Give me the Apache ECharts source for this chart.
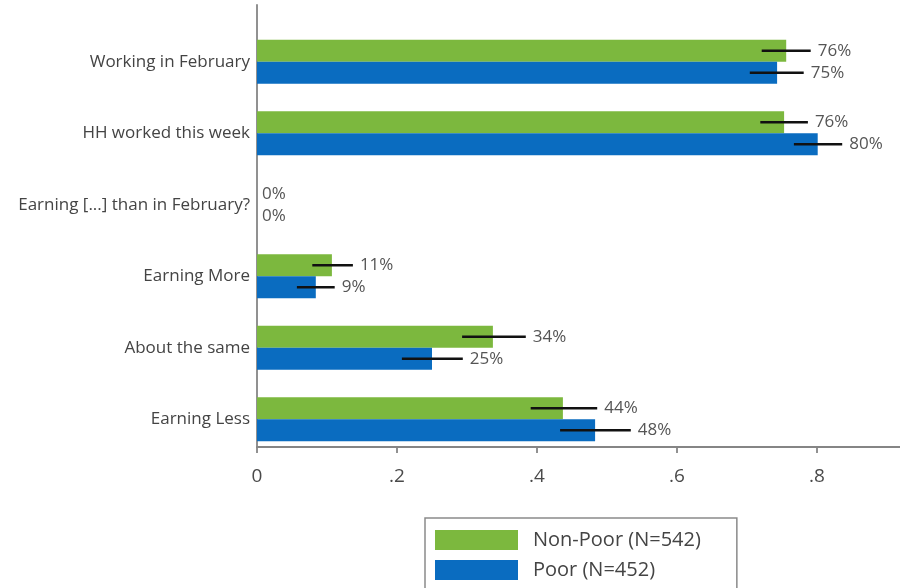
<!DOCTYPE html>
<html><head><meta charset="utf-8">
<script src="https://cdn.jsdelivr.net/npm/echarts@6/dist/echarts.min.js"></script>
<style>html,body{margin:0;padding:0;background:#fff}#c{width:900px;height:588px}</style>
</head><body><div id="c"></div>
<script>
const categories = ['Working in February','HH worked this week','Earning [...] than in February?','Earning More','About the same','Earning Less'];
const nonPoor = [0.756, 0.753, 0, 0.107, 0.337, 0.437];
const poor = [0.743, 0.801, 0, 0.084, 0.250, 0.483];
const nonPoorLow = [0.721, 0.719, null, 0.079, 0.293, 0.391];
const nonPoorHigh = [0.791, 0.787, null, 0.137, 0.384, 0.486];
const poorLow = [0.704, 0.767, null, 0.057, 0.207, 0.433];
const poorHigh = [0.781, 0.836, null, 0.111, 0.294, 0.534];
const nonPoorLabels = ['76%','76%','0%','11%','34%','44%'];
const poorLabels = ['75%','80%','0%','9%','25%','48%'];
const tickLabels = ['0','.2','.4','.6','.8'];
const seriesNames = ['Non-Poor (N=542)','Poor (N=452)'];

const GREEN = '#7cb83e', BLUE = '#0a6cc0';
const FONT = 'Open Sans';
const XMAX = 643/700;

function errData(low, high, vals, labels){
  return categories.map((c,i)=>[low[i], high[i], i, vals[i], labels[i]]);
}
const errDataCache = {};
function errRender(offset){
  return function(params, api){
    const low = api.value(0), high = api.value(1), idx = api.value(2), v = api.value(3);
    const label = errDataCache[params.seriesIndex][params.dataIndex][4];
    const children = [];
    let textX;
    if (low != null && !isNaN(low) && high != null && !isNaN(high)) {
      const p1 = api.coord([low, idx]);
      const p2 = api.coord([high, idx]);
      const y = p1[1] + offset;
      children.push({type:'line', shape:{x1:p1[0], y1:y, x2:p2[0], y2:y}, style:{stroke:'#111', lineWidth:2.6}});
      textX = p2[0] + 7;
    } else {
      textX = api.coord([v, idx])[0] + 5;
    }
    const yc = api.coord([0, idx])[1] + offset;
    children.push({type:'text', style:{text:label, x:textX, y:yc, verticalAlign:'middle', fill:'#555', fontSize:17, fontFamily:FONT}});
    return {type:'group', children};
  };
}
const chart = echarts.init(document.getElementById('c'), null, {renderer:'canvas'});
const npErr = errData(nonPoorLow, nonPoorHigh, nonPoor, nonPoorLabels);
const pErr = errData(poorLow, poorHigh, poor, poorLabels);
errDataCache[2] = npErr; errDataCache[3] = pErr;

chart.setOption({
  animation:false,
  textStyle:{fontFamily:FONT},
  grid:[
    {left:257, width:643, top:5, height:442},
    {left:257, width:643, top:26, height:429}
  ],
  xAxis:[
    {gridIndex:0, type:'value', min:0, max:XMAX, interval:0.2,
     axisLine:{show:true, lineStyle:{color:'#858585', width:1.8}},
     axisTick:{show:true, length:6, lineStyle:{color:'#858585', width:1.8}},
     splitLine:{show:false},
     axisLabel:{color:'#4a4a4a', fontSize:19, margin:20, showMaxLabel:false,
       formatter:v=>{const k=Math.round(v/0.2); return Math.abs(v-k*0.2)<1e-6 && tickLabels[k]!==undefined ? tickLabels[k] : '';}}},
    {gridIndex:1, type:'value', min:0, max:XMAX, show:false, splitLine:{show:false}}
  ],
  yAxis:[
    {gridIndex:0, type:'value', min:0, max:1,
     axisLine:{show:true, lineStyle:{color:'#858585', width:1.8}},
     axisTick:{show:false}, axisLabel:{show:false}, splitLine:{show:false}},
    {gridIndex:1, type:'category', inverse:true, data:categories,
     axisLine:{show:false}, axisTick:{show:false}, splitLine:{show:false},
     axisLabel:{color:'#444', fontSize:17, margin:7}}
  ],
  legend:{
    orient:'vertical', left:425, top:518, height:60, itemWidth:83, itemHeight:20, itemGap:10,
    padding:[12,36,20,10], borderColor:'#8a8a8a', borderWidth:1.5, backgroundColor:'#fff',
    icon:'rect', data:seriesNames,
    textStyle:{color:'#444', fontSize:20, fontFamily:FONT, padding:[0,0,0,10]}
  },
  series:[
    {name:seriesNames[0], type:'bar', xAxisIndex:1, yAxisIndex:1, data:nonPoor, barWidth:22, barGap:'0%', itemStyle:{color:GREEN}},
    {name:seriesNames[1], type:'bar', xAxisIndex:1, yAxisIndex:1, data:poor, barWidth:22, barGap:'0%', itemStyle:{color:BLUE}},
    {type:'custom', xAxisIndex:1, yAxisIndex:1, data:npErr, renderItem:errRender(-11), encode:{x:[0,1], y:2}, z:5},
    {type:'custom', xAxisIndex:1, yAxisIndex:1, data:pErr, renderItem:errRender(11), encode:{x:[0,1], y:2}, z:5}
  ]
});
</script></body></html>
